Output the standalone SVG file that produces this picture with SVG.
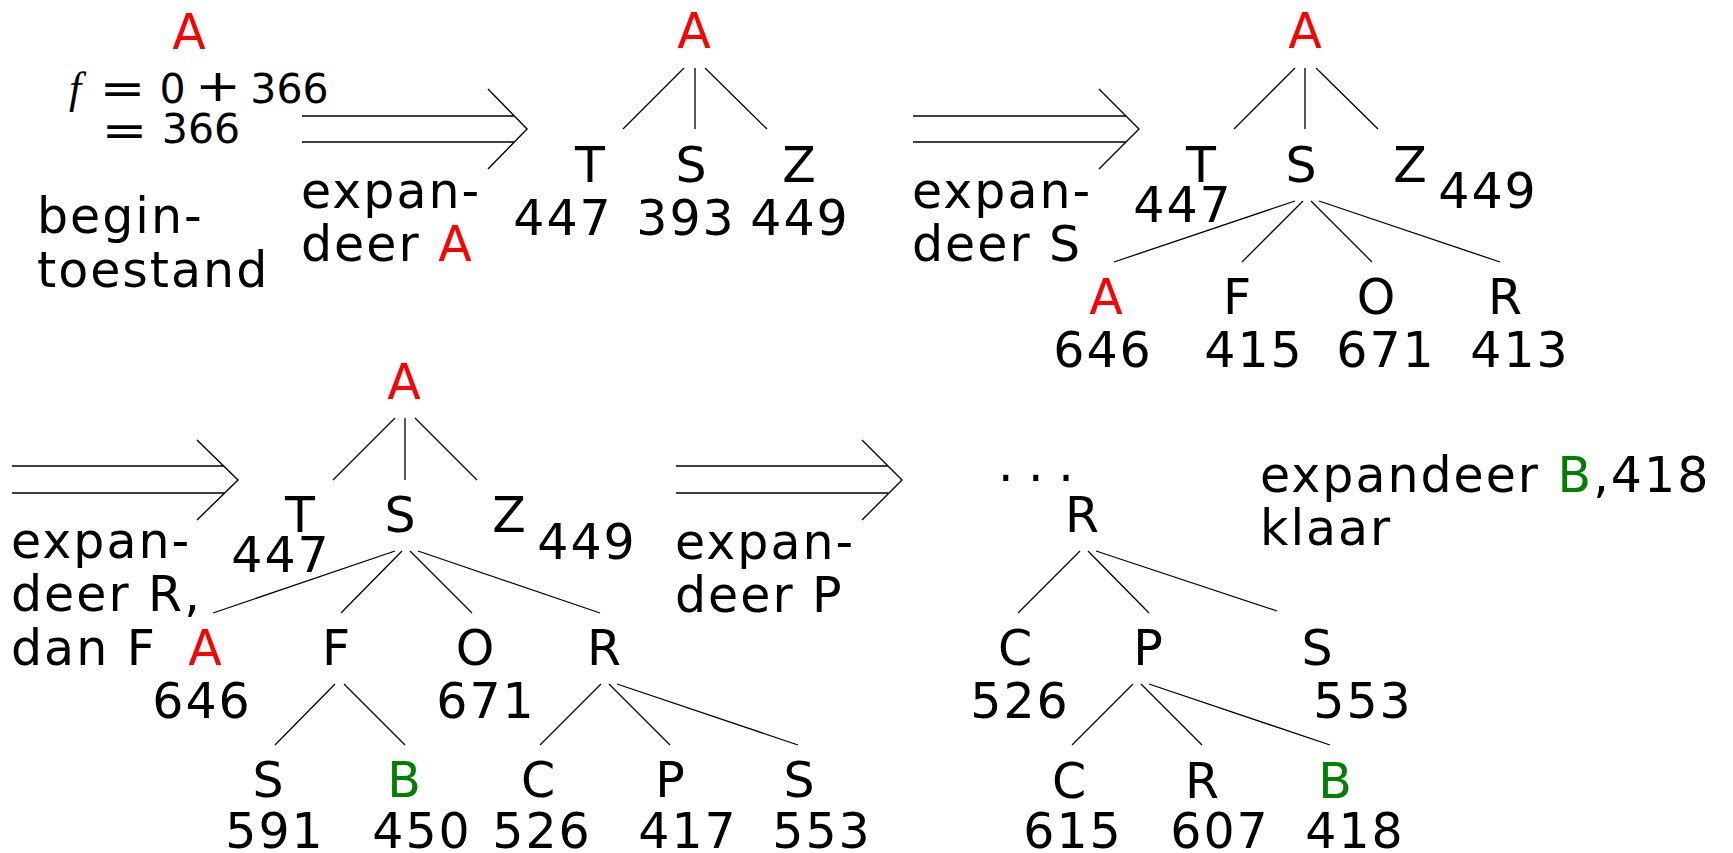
<svg xmlns="http://www.w3.org/2000/svg" width="1733" height="853" viewBox="0 0 1733 853">
<style>
text{font-family:"DejaVu Sans",sans-serif;font-size:49px;letter-spacing:2px;fill:#000}
.m{text-anchor:middle}
.r{fill:#ff0000}
.g{fill:#008000}
.mi{font-family:"Liberation Serif","DejaVu Serif",serif;font-style:italic;font-size:44px;letter-spacing:0}
.mt{font-size:41px;letter-spacing:0}
.op{font-size:44px;letter-spacing:0}
.e{stroke:#000;stroke-width:1.3;fill:none}
.arr{stroke:#000;stroke-width:1.4;fill:none}
</style>
<rect width="1733" height="853" fill="#fff"/>

<g id="connectors">
<!-- transition arrows -->
<path class="arr" d="M302,116H514M302,142H514M488,89L527,129L488,169"/>
<path class="arr" d="M913,116H1126M913,142H1126M1099,89L1139,129L1099,169"/>
<path class="arr" d="M12,466H224M12,493H224M197,440L238,480L197,520"/>
<path class="arr" d="M676,466H888M676,493H888M862,440L902,480L862,520"/>
<!-- tree 2 -->
<path class="e" d="M684,68L623,129M695,68L695,129M705,68L767,129"/>
<!-- tree 3 -->
<path class="e" d="M1295,68L1234,129M1305,68L1305,129M1316,68L1378,129"/>
<path class="e" d="M1295,201L1114,262M1303,201L1242,262M1311,201L1372,262M1319,201L1500,262"/>
<!-- tree 4 -->
<path class="e" d="M395,418L333,480M405,418L405,480M415,418L477,480"/>
<path class="e" d="M395,551L213,613M402,551L341,613M410,551L472,613M418,551L600,613"/>
<path class="e" d="M335,684L275,745M344,684L405,745"/>
<path class="e" d="M601,684L540,745M609,684L670,745M617,684L798,745"/>
<!-- tree 5 -->
<path class="e" d="M1080,551L1018,613M1088,551L1149,613M1096,551L1277,611"/>
<path class="e" d="M1133,684L1072,745M1141,684L1202,745M1149,684L1330,745"/>
</g>

<!-- panel 1: start state -->
<g id="p1-A"><text class="m r" x="190" y="49">A</text></g>
<g id="p1-f">
<text class="mi" x="69" y="103">f</text>
<text class="m op" transform="translate(122.5,104) scale(1.25,1)">=</text>
<text class="m mt" x="172.5" y="103">0</text>
<text class="m op" transform="translate(218,101) scale(1.25,1)">+</text>
<text class="m mt" x="289.5" y="103">366</text>
<text class="m op" transform="translate(124.5,146) scale(1.25,1)">=</text>
<text class="m mt" x="201" y="143">366</text>
</g>
<g id="p1-label"><text x="37" y="233">begin-</text><text x="37" y="287">toestand</text></g>
<g id="label1"><text x="301" y="208">expan-</text><text x="301" y="261">deer <tspan class="r">A</tspan></text></g>

<!-- panel 2 -->
<g id="t2-A"><text class="m r" x="695" y="48">A</text></g>
<g id="t2-T"><text class="m" x="591" y="182">T</text><text class="m" x="563" y="235">447</text></g>
<g id="t2-S"><text class="m" x="692" y="182">S</text><text class="m" x="686" y="235">393</text></g>
<g id="t2-Z"><text class="m" x="800" y="182">Z</text><text class="m" x="800" y="235">449</text></g>
<g id="label2"><text x="912" y="208">expan-</text><text x="912" y="261">deer S</text></g>

<!-- panel 3 -->
<g id="t3-A"><text class="m r" x="1306" y="48">A</text></g>
<g id="t3-T"><text class="m" x="1202" y="182">T</text><text class="m" x="1183" y="222">447</text></g>
<g id="t3-S"><text class="m" x="1302" y="182">S</text></g>
<g id="t3-Z"><text class="m" x="1411" y="182">Z</text><text class="m" x="1488" y="208">449</text></g>
<g id="t3-SA"><text class="m r" x="1107" y="314">A</text><text class="m" x="1103" y="367">646</text></g>
<g id="t3-SF"><text class="m" x="1238" y="314">F</text><text class="m" x="1254" y="367">415</text></g>
<g id="t3-SO"><text class="m" x="1377" y="314">O</text><text class="m" x="1386" y="367">671</text></g>
<g id="t3-SR"><text class="m" x="1506" y="314">R</text><text class="m" x="1520" y="367">413</text></g>

<!-- panel 4 -->
<g id="label3"><text x="11" y="558">expan-</text><text x="11" y="611">deer R,</text><text x="11" y="665">dan F</text></g>
<g id="t4-A"><text class="m r" x="405" y="399">A</text></g>
<g id="t4-T"><text class="m" x="301" y="532">T</text><text class="m" x="281" y="572">447</text></g>
<g id="t4-S"><text class="m" x="401" y="532">S</text></g>
<g id="t4-Z"><text class="m" x="510" y="532">Z</text><text class="m" x="587" y="559">449</text></g>
<g id="t4-SA"><text class="m r" x="206" y="665">A</text><text class="m" x="202" y="718">646</text></g>
<g id="t4-SF"><text class="m" x="337" y="665">F</text></g>
<g id="t4-SO"><text class="m" x="476" y="665">O</text><text class="m" x="486" y="718">671</text></g>
<g id="t4-SR"><text class="m" x="605" y="665">R</text></g>
<g id="t4-FS"><text class="m" x="269" y="797">S</text><text class="m" x="275" y="848">591</text></g>
<g id="t4-FB"><text class="m g" x="405" y="797">B</text><text class="m" x="422" y="848">450</text></g>
<g id="t4-RC"><text class="m" x="539" y="797">C</text><text class="m" x="542" y="848">526</text></g>
<g id="t4-RP"><text class="m" x="671" y="797">P</text><text class="m" x="688" y="848">417</text></g>
<g id="t4-RS"><text class="m" x="800" y="797">S</text><text class="m" x="822" y="848">553</text></g>
<g id="label4"><text x="675" y="559">expan-</text><text x="675" y="612">deer P</text></g>

<!-- panel 5 -->
<g id="t5-dots"><text x="998" y="481" style="letter-spacing:14.5px">...</text></g>
<g id="t5-R"><text class="m" x="1083" y="532">R</text></g>
<g id="t5-C"><text class="m" x="1016" y="665">C</text><text class="m" x="1020" y="718">526</text></g>
<g id="t5-P"><text class="m" x="1149" y="665">P</text></g>
<g id="t5-S"><text class="m" x="1318" y="665">S</text><text class="m" x="1363" y="718">553</text></g>
<g id="t5-PC"><text class="m" x="1070" y="798">C</text><text class="m" x="1073" y="848">615</text></g>
<g id="t5-PR"><text class="m" x="1203" y="798">R</text><text class="m" x="1220" y="848">607</text></g>
<g id="t5-PB"><text class="m g" x="1336" y="798">B</text><text class="m" x="1355" y="848">418</text></g>
<g id="label5"><text x="1260" y="492">expandeer <tspan class="g">B</tspan>,418</text><text x="1260" y="545">klaar</text></g>
</svg>
